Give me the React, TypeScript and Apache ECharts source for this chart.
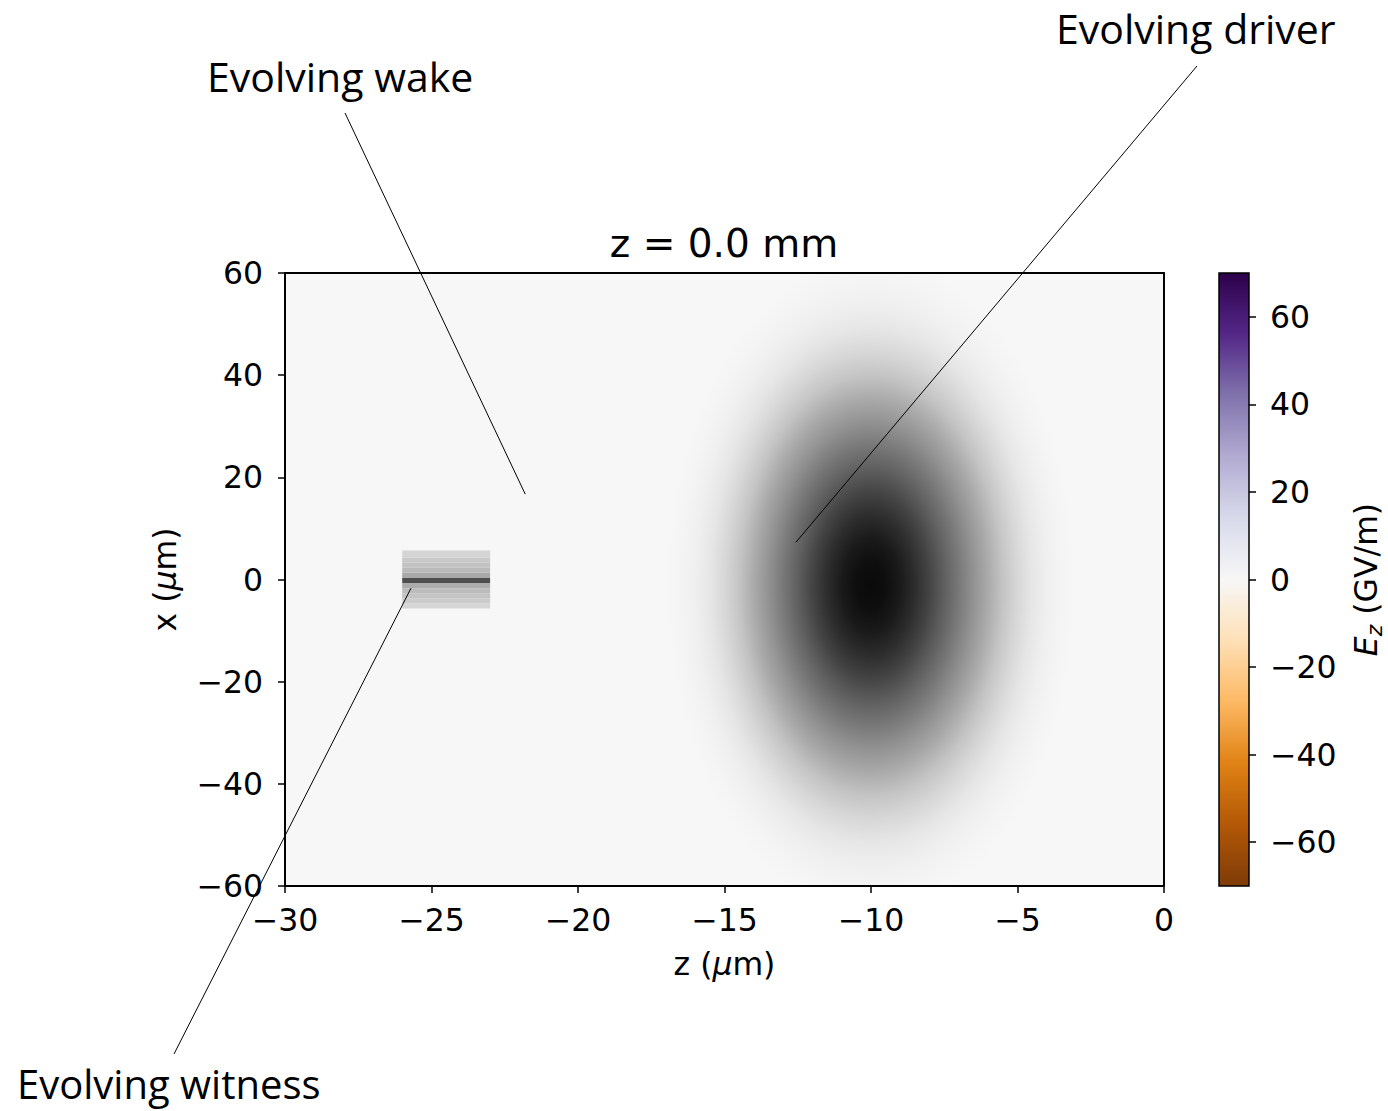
import React, { useEffect, useRef } from "react";
import * as echarts from "echarts";

// ---------- data ----------
const zTicks = [-30, -25, -20, -15, -10, -5, 0];
const xTicks = [-60, -40, -20, 0, 20, 40, 60];
const colorbarTicks = [-60, -40, -20, 0, 20, 40, 60];
const ezRange = [-70, 70];
const puorColors = [
  "#7f3b08", "#b35806", "#e08214", "#fdb863", "#fee0b6", "#f7f7f7",
  "#d8daeb", "#b2abd2", "#8073ac", "#542788", "#2d004b",
];
const fieldBackground = "#f7f7f7";

// driver beam (µm): centre z, centre x, half-extent z, half-extent x
const driverCenterZ = -10.0;
const driverCenterX = -1.2;
const driverExtentZ = 7.0;
const driverExtentX = 64;
// grey level at distances 0, 0.5, 1.0 ... 7.0 µm from the centre (along z)
const driverGray = [10, 14, 26, 45, 68, 95, 120, 146, 170, 196, 215, 230, 239, 244, 247];

// witness beam (µm)
const witnessZ = [-26.0, -23.0];
const witnessRowEdges = [-5.7, -4.7, -3.7, -2.7, -1.7, -0.7, 0.3, 1.3, 2.3, 3.3, 4.3, 5.7];
const witnessRowGray = [214, 203, 196, 188, 172, 78, 168, 186, 194, 201, 212];

// annotations: label and target point (z, x in µm)
const annLabels = ["Evolving wake", "Evolving driver", "Evolving witness"];
const annTargets = [
  [-21.8, 16.7],
  [-12.56, 7.3],
  [-25.7, -1.7],
];

// ---------- layout ----------
const annTextPos = [
  [207, 76],
  [1056, 28],
  [17, 1083],
];
const annFontSize = [41, 41, 40];
const annLineStart = [
  [345, 113],
  [1197, 66],
  [174, 1054],
];

const tickFont = "DejaVu Sans";
const fmt = (v: number) => (v < 0 ? "\u2212" + Math.abs(v) : String(v));

export default function App() {
  const ref = useRef<HTMLDivElement>(null);
  useEffect(() => {
    document.body.style.margin = "0";
    const chart = echarts.init(ref.current!, null, { renderer: "svg" });

    const driverStops = driverGray.map((g, i) => ({
      offset: i / (driverGray.length - 1),
      color: `rgb(${g},${g},${g})`,
    }));
    const cbStops = puorColors.map((c, i) => ({ offset: i / (puorColors.length - 1), color: c }));

    const witnessData = witnessRowGray.map((g, i) => [
      witnessZ[0], witnessZ[1], witnessRowEdges[i], witnessRowEdges[i + 1], g,
    ]);

    const axisText = { color: "#000", fontFamily: tickFont, fontSize: 31.5 };
    const spine = { show: true, onZero: false, lineStyle: { color: "#000", width: 2 } };
    const tick = { show: true, length: 7, lineStyle: { color: "#000", width: 1.5 } };

    const option: any = {
      animation: false,
      backgroundColor: "#fff",
      grid: [
        { left: 285, top: 273, width: 879, height: 613, show: true, backgroundColor: fieldBackground, borderWidth: 0 },
        { left: 1219, top: 273, width: 30, height: 613, show: false },
      ],
      xAxis: [
        {
          gridIndex: 0, type: "value", min: zTicks[0], max: zTicks[zTicks.length - 1], interval: 5,
          position: "bottom", z: 10,
          axisLine: spine,
          axisTick: tick,
          axisLabel: { ...axisText, margin: 18, formatter: fmt },
          splitLine: { show: false },
          name: "z ({i|\u03bc}m)", nameLocation: "middle", nameGap: 62,
          nameTextStyle: { ...axisText, verticalAlign: "top", rich: { i: { ...axisText, fontStyle: "italic" } } },
        },
        {
          gridIndex: 0, type: "value", min: zTicks[0], max: zTicks[zTicks.length - 1],
          position: "top", z: 10, axisLine: spine, axisTick: { show: false }, axisLabel: { show: false }, splitLine: { show: false },
        },
        { gridIndex: 1, type: "value", min: 0, max: 1, show: false },
      ],
      yAxis: [
        {
          gridIndex: 0, type: "value", min: xTicks[0], max: xTicks[xTicks.length - 1], interval: 20,
          position: "left", z: 10,
          axisLine: spine,
          axisTick: tick,
          axisLabel: { ...axisText, margin: 22, formatter: fmt },
          splitLine: { show: false },
          name: "x ({i|\u03bc}m)", nameLocation: "middle", nameGap: 104, nameRotate: 90,
          nameTextStyle: { ...axisText, rich: { i: { ...axisText, fontStyle: "italic" } } },
        },
        {
          gridIndex: 0, type: "value", min: xTicks[0], max: xTicks[xTicks.length - 1],
          position: "right", z: 10, axisLine: spine, axisTick: { show: false }, axisLabel: { show: false }, splitLine: { show: false },
        },
        {
          gridIndex: 1, type: "value", min: ezRange[0], max: ezRange[1], position: "right", z: 10,
          axisLine: { show: false, onZero: false },
          axisTick: { ...tick, customValues: colorbarTicks },
          axisLabel: { ...axisText, margin: 21, formatter: fmt, customValues: colorbarTicks },
          splitLine: { show: false },
          name: "{e|E}{s|z} (GV/m)", nameLocation: "middle", nameGap: 98, nameRotate: 90,
          nameTextStyle: {
            ...axisText,
            rich: {
              e: { ...axisText, fontStyle: "italic" },
              s: { ...axisText, fontSize: 22, fontStyle: "italic", padding: [16, 0, 0, 0] },
            },
          },
        },
      ],
      series: [
        {
          type: "custom",
          name: "driver",
          xAxisIndex: 0, yAxisIndex: 0,
          clip: true,
          silent: true,
          data: [[driverCenterZ, driverCenterX, driverExtentZ, driverExtentX]],
          renderItem: (params: any, api: any) => {
            const c = api.coord([api.value(0), api.value(1)]);
            const s = api.size([api.value(2), api.value(3)]);
            return {
              type: "circle",
              x: c[0], y: c[1],
              scaleX: s[0] / s[1], scaleY: 1,
              shape: { cx: 0, cy: 0, r: s[1] },
              style: { fill: new echarts.graphic.RadialGradient(0.5, 0.5, 0.5, driverStops) },
            };
          },
        },
        {
          type: "custom",
          name: "witness",
          xAxisIndex: 0, yAxisIndex: 0,
          clip: true,
          silent: true,
          data: witnessData,
          renderItem: (params: any, api: any) => {
            const p1 = api.coord([api.value(0), api.value(3)]);
            const p2 = api.coord([api.value(1), api.value(2)]);
            const g = api.value(4);
            return {
              type: "rect",
              shape: { x: p1[0], y: p1[1], width: p2[0] - p1[0], height: p2[1] - p1[1] },
              style: { fill: `rgb(${g},${g},${g})` },
            };
          },
        },
        {
          type: "custom",
          name: "colorbar",
          xAxisIndex: 2, yAxisIndex: 2,
          silent: true,
          data: [[0, 1, ezRange[0], ezRange[1]]],
          renderItem: (params: any, api: any) => {
            const p1 = api.coord([api.value(0), api.value(3)]);
            const p2 = api.coord([api.value(1), api.value(2)]);
            return {
              type: "rect",
              shape: { x: p1[0], y: p1[1], width: p2[0] - p1[0], height: p2[1] - p1[1] },
              style: {
                fill: new echarts.graphic.LinearGradient(0, 1, 0, 0, cbStops),
                stroke: "#000", lineWidth: 1.5,
              },
            };
          },
        },
      ],
    };
    chart.setOption(option);

    const graphics: any[] = [
      {
        type: "text", x: 724, y: 243, z: 100,
        style: { text: "z = 0.0 mm", fill: "#000", font: `39px "${tickFont}"`, textAlign: "center", textVerticalAlign: "middle" },
      },
    ];
    annLabels.forEach((label, i) => {
      const p = chart.convertToPixel({ gridIndex: 0 }, annTargets[i]) as number[];
      graphics.push({
        type: "line", z: 100, silent: true,
        shape: { x1: annLineStart[i][0], y1: annLineStart[i][1], x2: p[0], y2: p[1] },
        style: { stroke: "#000", lineWidth: 1 },
      });
      graphics.push({
        type: "text", x: annTextPos[i][0], y: annTextPos[i][1], z: 100,
        style: { text: label, fill: "#000", font: `400 ${annFontSize[i]}px "Open Sans"`, textAlign: "left", textVerticalAlign: "middle" },
      });
    });
    chart.setOption({ graphic: graphics });

    return () => chart.dispose();
  }, []);
  return (
    <div
      ref={ref}
      style={{ position: "absolute", left: 0, top: 0, width: 1388, height: 1111, background: "#fff" }}
    />
  );
}
